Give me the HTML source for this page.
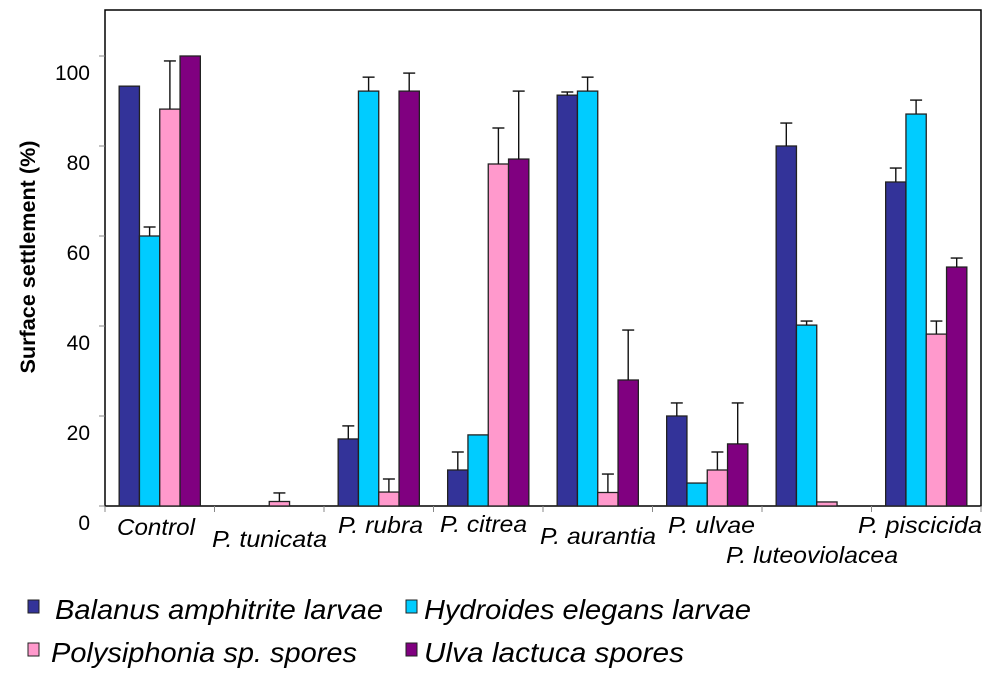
<!DOCTYPE html>
<html><head><meta charset="utf-8"><style>
html,body{margin:0;padding:0;background:#fff;}
svg{display:block;font-family:"Liberation Sans",Arial,sans-serif;}
</style></head><body>
<svg id="chart" width="1000" height="680" viewBox="0 0 1000 680" xmlns="http://www.w3.org/2000/svg">
<rect x="105" y="10" width="876" height="496" fill="#fff" stroke="#000" stroke-width="1.5"/>
<g id="yaxis"></g>
<g id="xaxis"></g>
<g id="bars"></g>
<text x="0" y="0" transform="translate(35,257) rotate(-90)" text-anchor="middle" font-weight="bold" font-size="21" textLength="233" lengthAdjust="spacingAndGlyphs">Surface settlement (%)</text>
<g>
 <g><rect x="28" y="600" width="11" height="13" fill="#333399" stroke="#222"/><text x="55" y="619" font-size="28" font-style="italic" textLength="328" lengthAdjust="spacingAndGlyphs">Balanus amphitrite larvae</text></g>
 <g><rect x="406" y="600" width="11" height="13" fill="#00CCFF" stroke="#222"/><text x="424" y="619" font-size="28" font-style="italic" textLength="327" lengthAdjust="spacingAndGlyphs">Hydroides elegans larvae</text></g>
 <g><rect x="28" y="643" width="11" height="13" fill="#FF99CC" stroke="#222"/><text x="51" y="662" font-size="28" font-style="italic" textLength="306" lengthAdjust="spacingAndGlyphs">Polysiphonia sp. spores</text></g>
 <g><rect x="406" y="643" width="11" height="13" fill="#800080" stroke="#222"/><text x="424" y="662" font-size="28" font-style="italic" textLength="260" lengthAdjust="spacingAndGlyphs">Ulva lactuca spores</text></g>
</g>
</svg>
<script>
const categories = ["Control","P. tunicata","P. rubra","P. citrea","P. aurantia","P. ulvae","P. luteoviolacea","P. piscicida"];
const balanus = [93.3, 0, 14.9, 8, 91.3, 20, 80, 72];
const balanusErr = [0, 0, 2.9, 4, 0.7, 2.9, 5.1, 3.1];
const hydroides = [60, 0, 92.2, 15.8, 92.2, 5.1, 40.2, 87.1];
const hydroidesErr = [2, 0, 3.1, 0, 3.1, 0, 0.9, 3.1];
const polysiphonia = [88.2, 1, 3.1, 76, 3, 8, 0.9, 38.2];
const polysiphoniaErr = [10.7, 1.9, 2.9, 8, 4.1, 4, 0, 2.9];
const ulva = [100, 0, 92.2, 77.1, 28, 13.8, 0, 53.1];
const ulvaErr = [0, 0, 4, 15.1, 11.1, 9.1, 0, 2];
const yTicks = [0, 20, 40, 60, 80, 100];
const labelLayout = [[117,535,78],[212,547,115],[338,533,85],[440,532,87],[540,544,116],[668,533,87],[726,563,172],[858,533,124]];

const NS = "http://www.w3.org/2000/svg";
const X0 = 105, X1 = 981, Y0 = 506, PX = 4.5;
const catW = (X1 - X0) / categories.length;
const barW = 20.3;
function y(v){ return Y0 - v * PX; }
function xCat(i){ return X0 + i * catW; }
function mk(tag, attrs, parent){ const e = document.createElementNS(NS, tag); for (const k in attrs) e.setAttribute(k, attrs[k]); parent.appendChild(e); return e; }

const yAxis = document.getElementById('yaxis');
yTicks.forEach(t => {
  const ln = mk('line', {x1: X0 - 6, x2: X0, y1: y(t), y2: y(t), stroke: '#888', 'stroke-width': 1}, yAxis);
  
  
  const tx = mk('text', {x: 90, y: y(t) + 24, 'text-anchor': 'end', 'font-size': 21}, yAxis);
  tx.textContent = String(t);
  
  
});

const xAxis = document.getElementById('xaxis');
for (let i = 0; i <= categories.length; i++) {
  const ln = mk('line', {x1: xCat(i), x2: xCat(i), y1: Y0, y2: Y0 + 6, stroke: '#888', 'stroke-width': 1}, xAxis);
  
  
}
categories.forEach((c, i) => {
  const tx = mk('text', {x: labelLayout[i][0], y: labelLayout[i][1], 'font-size': 23, 'font-style': 'italic', textLength: labelLayout[i][2], lengthAdjust: 'spacingAndGlyphs'}, xAxis);
  tx.textContent = c;
  
  
});

const series = [
  {vals: balanus, errs: balanusErr, color: '#333399', name: 'balanus'},
  {vals: hydroides, errs: hydroidesErr, color: '#00CCFF', name: 'hydroides'},
  {vals: polysiphonia, errs: polysiphoniaErr, color: '#FF99CC', name: 'polysiphonia'},
  {vals: ulva, errs: ulvaErr, color: '#800080', name: 'ulva'}
];
const barsG = document.getElementById('bars');
categories.forEach((c, i) => {
  const gx = xCat(i) + (catW - 4 * barW) / 2;
  series.forEach((s, j) => {
    const v = s.vals[i];
    const bx = gx + j * barW;
    const r = mk('rect', {x: bx, y: y(v), width: barW, height: Math.max(0, v * PX), fill: s.color, stroke: '#222', 'stroke-width': 1.3}, barsG);
    
    
    const e = s.errs[i];
    if (e > 0) {
      const cx = bx + barW / 2, top = y(v + e);
      const l1 = mk('line', {x1: cx, x2: cx, y1: y(v), y2: top, stroke: '#111', 'stroke-width': 1.4}, barsG);
      
      
      const l2 = mk('line', {x1: cx - 6, x2: cx + 6, y1: top, y2: top, stroke: '#111', 'stroke-width': 1.4}, barsG);
      
      
    }
  });
});
</script>
</body></html>
